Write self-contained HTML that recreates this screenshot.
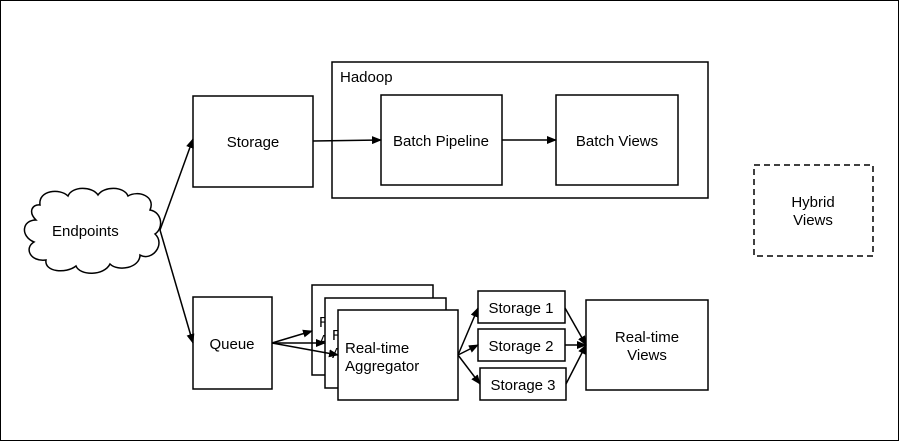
<!DOCTYPE html>
<html><head><style>
body{margin:0;background:#fff}
svg{display:block;font-family:"Liberation Sans",Arial,sans-serif;font-size:15px}
</style></head><body>
<svg width="900" height="442" viewBox="0 0 900 442" xmlns="http://www.w3.org/2000/svg">
<defs>
<marker id="a" markerWidth="10" markerHeight="8" refX="9" refY="4" orient="auto" markerUnits="userSpaceOnUse"><path d="M0,0 L10,4 L0,8 z" fill="#000"/></marker>
<clipPath id="c1"><rect x="312" y="285" width="13" height="90"/></clipPath>
<clipPath id="c2"><rect x="325" y="298" width="13" height="90"/></clipPath>
</defs>
<rect x="0.5" y="0.5" width="898" height="440" fill="#fff" stroke="#000"/>
<g fill="#fff" stroke="#000" stroke-width="1.5">
<path d="M40,205 C38,190 60,188 68,196 C72,186 92,186 98,195 C104,186 124,186 128,196 C138,190 156,196 150,210 C162,212 164,228 155,234 C166,244 152,262 140,255 C140,268 118,272 110,264 C104,276 80,276 76,266 C66,274 44,272 46,260 C30,262 24,248 34,242 C20,236 22,220 36,220 C28,212 32,204 40,205 Z"/>
<rect x="193" y="96" width="120" height="91"/>
<rect x="332" y="62" width="376" height="136"/>
<rect x="381" y="95" width="121" height="90"/>
<rect x="556" y="95" width="122" height="90"/>
<rect x="754" y="165" width="119" height="91" stroke-dasharray="6,4"/>
<rect x="193" y="297" width="79" height="92"/>
<rect x="312" y="285" width="121" height="90"/>
<rect x="325" y="298" width="121" height="90"/>
<rect x="338" y="310" width="120" height="90"/>
<rect x="478" y="291" width="87" height="32"/>
<rect x="478" y="329" width="87" height="32"/>
<rect x="480" y="368" width="86" height="32"/>
<rect x="586" y="300" width="122" height="90"/>
</g>
<g stroke="#000" stroke-width="1.5" fill="none" marker-end="url(#a)">
<line x1="160" y1="230" x2="193" y2="139"/>
<line x1="160" y1="230" x2="193" y2="343"/>
<line x1="313" y1="141" x2="381" y2="140"/>
<line x1="502" y1="140" x2="556" y2="140"/>
<line x1="272" y1="343" x2="312" y2="331"/>
<line x1="272" y1="343" x2="325" y2="343"/>
<line x1="272" y1="343" x2="338" y2="355"/>
<line x1="458" y1="355" x2="478" y2="308"/>
<line x1="458" y1="355" x2="478" y2="345"/>
<line x1="458" y1="355" x2="480" y2="384"/>
<line x1="565" y1="308" x2="586" y2="345"/>
<line x1="565" y1="345" x2="586" y2="345"/>
<line x1="566" y1="384" x2="586" y2="345"/>
</g>
<g fill="#000">
<text x="52" y="236">Endpoints</text>
<text x="253" y="147" text-anchor="middle">Storage</text>
<text x="340" y="82">Hadoop</text>
<text x="441" y="146" text-anchor="middle">Batch Pipeline</text>
<text x="617" y="146" text-anchor="middle">Batch Views</text>
<text x="813" y="207" text-anchor="middle">Hybrid</text>
<text x="813" y="225" text-anchor="middle">Views</text>
<text x="232" y="349" text-anchor="middle">Queue</text>
<g clip-path="url(#c1)"><text x="319" y="327">Real-time</text><text x="319" y="345">Aggregator</text></g>
<g clip-path="url(#c2)"><text x="332" y="340">Real-time</text><text x="332" y="358">Aggregator</text></g>
<text x="345" y="353">Real-time</text>
<text x="345" y="371">Aggregator</text>
<text x="521" y="313" text-anchor="middle">Storage 1</text>
<text x="521" y="351" text-anchor="middle">Storage 2</text>
<text x="523" y="390" text-anchor="middle">Storage 3</text>
<text x="647" y="342" text-anchor="middle">Real-time</text>
<text x="647" y="360" text-anchor="middle">Views</text>
</g>
</svg>
</body></html>
